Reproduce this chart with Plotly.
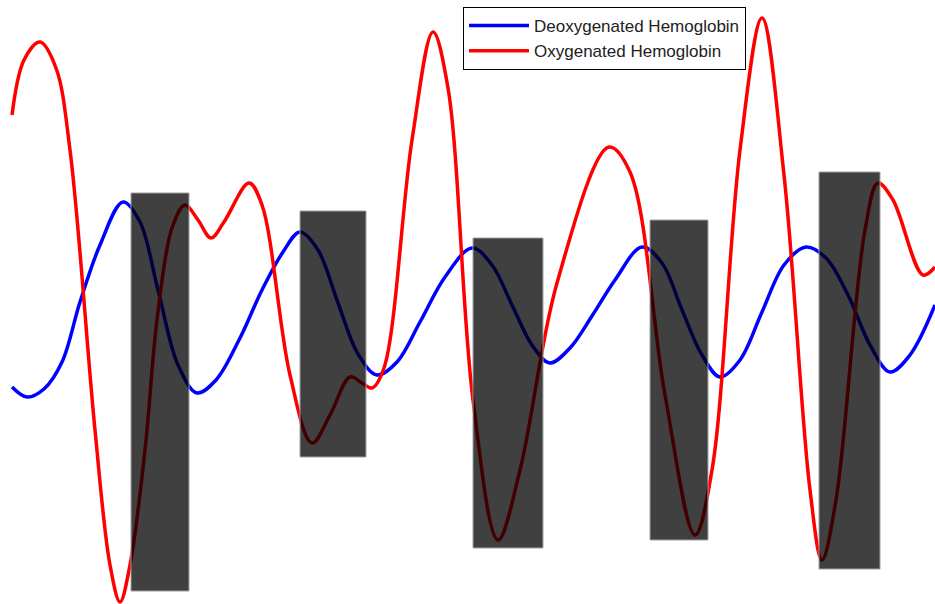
import plotly.graph_objects as go

# Time axis (screen-derived units) and hemoglobin signals (reversed vertical axis units)
hbr_t = [12, 27, 44, 62, 80, 100, 123, 140, 158, 178, 197, 216, 240, 262, 283, 300, 318, 338, 358, 377,
         397, 420, 445, 472, 492, 512, 532, 550, 570, 592, 615, 642, 662, 682, 702, 720, 740, 762, 784, 806,
         826, 848, 870, 890, 910, 935]
hbr_v = [387, 397, 389, 362, 302, 245, 202, 222, 290, 365, 393, 380, 338, 290, 252, 232, 250, 303, 354, 375,
         362, 322, 277, 248, 265, 305, 345, 363, 348, 316, 280, 247, 263, 310, 355, 377, 360, 312, 265, 247,
         258, 295, 345, 372, 355, 305]

hbo_t = [12, 24, 40, 56, 70, 95, 110, 120, 130, 145, 157, 172, 185, 198, 211, 224, 249, 262, 290, 312, 330,
         350, 362, 372, 384, 412, 433, 448, 473, 498, 520, 557, 609, 630, 665, 695, 712, 740, 762, 784, 810,
         822, 836, 865, 878, 893, 923, 935]
hbo_v = [115, 60, 42, 68, 150, 430, 565, 602, 565, 450, 320, 228, 205, 220, 238, 222, 183, 205, 375, 443, 415,
         377, 383, 388, 368, 140, 32, 88, 400, 540, 470, 283, 147, 172, 395, 535, 470, 150, 18, 175, 490,
         560, 500, 230, 183, 200, 275, 267]

# Task blocks
block_start = [131, 300, 473, 650, 819]
block_end = [189, 366, 543, 708, 880]
block_top = [193, 211, 238, 220, 172]
block_bottom = [591, 457, 548, 540, 569]

series_names = ["Deoxygenated Hemoglobin", "Oxygenated Hemoglobin"]

fig = go.Figure()
fig.add_trace(go.Scatter(x=hbr_t, y=hbr_v, name=series_names[0], mode="lines",
                         line=dict(color="#0000ff", width=3.5, shape="spline", smoothing=1.0)))
fig.add_trace(go.Scatter(x=hbo_t, y=hbo_v, name=series_names[1], mode="lines",
                         line=dict(color="#ff0000", width=3.5, shape="spline", smoothing=1.0)))

for x0, x1, y0, y1 in zip(block_start, block_end, block_top, block_bottom):
    fig.add_shape(type="rect", xref="x", yref="y", x0=x0, x1=x1, y0=y0, y1=y1,
                  fillcolor="rgba(0,0,0,0.75)", line=dict(color="rgba(160,160,160,1)", width=1),
                  layer="above")

fig.update_layout(
    width=935, height=604,
    margin=dict(l=0, r=0, t=0, b=0),
    paper_bgcolor="white", plot_bgcolor="white",
    xaxis=dict(range=[0, 935], visible=False, fixedrange=True),
    yaxis=dict(range=[604, 0], visible=False, fixedrange=True),
    showlegend=True,
    legend=dict(x=463/935, y=1-7/604, xanchor="left", yanchor="top",
                bgcolor="white", bordercolor="black", borderwidth=1,
                itemwidth=60,
                font=dict(family="Liberation Sans, Arial, sans-serif", size=17, color="#222222"),
                tracegroupgap=0),
)

fig.write_html("out.html")
